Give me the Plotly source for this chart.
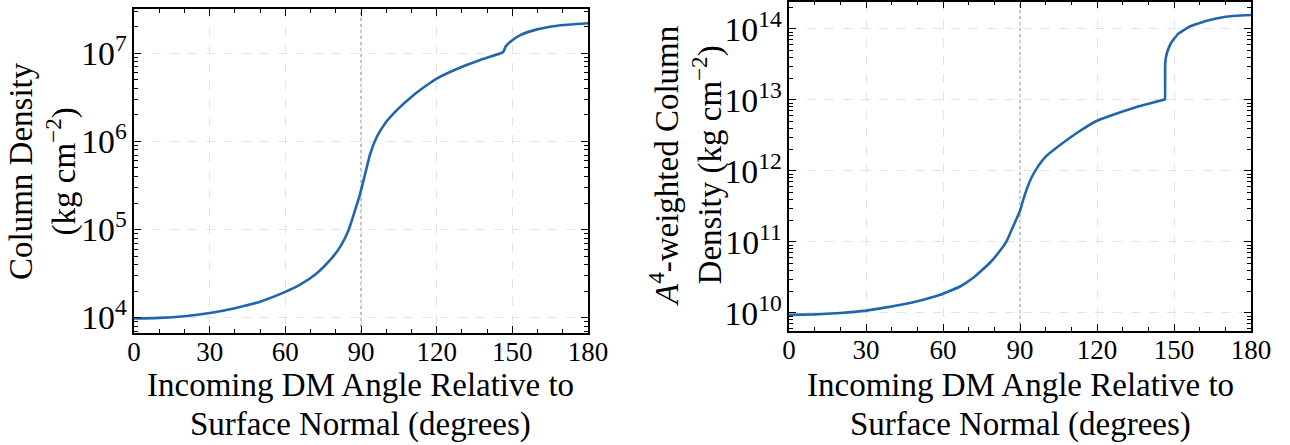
import plotly.graph_objects as go
from plotly.subplots import make_subplots

# ---- data ----
angle_left = [0, 10, 20, 30, 40, 50, 60, 66, 72.5, 77.8, 81.8, 85.1, 87.7, 89.7, 91.7, 93.7,
              96.3, 99.6, 104.3, 110.9, 116.2, 120.2, 129.4, 137.3, 146.2, 146.6, 147.0, 147.3,
              149.2, 153.2, 159.8, 167.8, 180]
column_density = [9.8e3, 9.95e3, 1.04e4, 1.13e4, 1.28e4, 1.52e4, 1.96e4, 2.38e4, 3.19e4, 4.52e4,
                  6.4e4, 9.9e4, 1.67e5, 2.58e5, 4.35e5, 7.3e5, 1.13e6, 1.61e6, 2.28e6, 3.37e6,
                  4.37e6, 5.2e6, 6.9e6, 8.4e6, 1.026e7, 1.06e7, 1.13e7, 1.19e7, 1.355e7, 1.61e7,
                  1.87e7, 2.06e7, 2.19e7]

angle_right = [0, 10, 20, 30, 40, 50, 58.9, 66.7, 71.9, 78.3, 82.2, 84.8, 87.4, 90, 91.3, 92.6,
               94.5, 97.1, 100.3, 106.8, 113.3, 119.8, 124.9, 128.8, 136.6, 146.4, 146.5, 146.55,
               146.8, 147.5, 148.9, 151.4, 156, 162.4, 170.2, 180]
a4_column_density = [9.4e9, 9.55e9, 1.0e10, 1.08e10, 1.23e10, 1.46e10, 1.8e10, 2.36e10, 3.15e10,
                     5.1e10, 7.5e10, 1.03e11, 1.68e11, 2.74e11, 3.98e11, 5.5e11, 8.1e11, 1.17e12,
                     1.63e12, 2.5e12, 3.66e12, 5.06e12, 5.96e12, 6.64e12, 8.2e12, 1.02e13, 1.03e13,
                     3.0e13, 3.9e13, 4.9e13, 6.4e13, 8.4e13, 1.08e14, 1.30e14, 1.49e14, 1.57e14]

x_ticks = [0, 30, 60, 90, 120, 150, 180]
ref_angle = 90

x_title_lines = ["Incoming DM Angle Relative to", "Surface Normal (degrees)"]
y_title_left = "Column Density<br>(kg cm<sup>−2</sup>)"
y_title_right = "<i>A</i><sup>4</sup>-weighted Column<br>Density (kg cm<sup>−2</sup>)"

LINE = "#2166ac"
FONT = "Liberation Serif"
W, H = 1290, 445

fig = make_subplots(rows=1, cols=2)
fig.add_trace(go.Scatter(x=angle_left, y=column_density, mode="lines",
                         line=dict(color=LINE, width=2.6, shape="spline", smoothing=0.5),
                         showlegend=False), row=1, col=1)
fig.add_trace(go.Scatter(x=angle_right, y=a4_column_density, mode="lines",
                         line=dict(color=LINE, width=2.6, shape="spline", smoothing=0.3),
                         showlegend=False), row=1, col=2)

for xref, yref in (("x", "y"), ("x2", "y2")):
    fig.add_shape(type="line", xref=xref, yref=yref + " domain", x0=ref_angle, x1=ref_angle,
                  y0=0, y1=1, line=dict(color="#888888", width=1, dash="dot"), layer="below")

common_x = dict(range=[0, 180], tickvals=x_ticks, ticks="inside", ticklen=7, tickwidth=1.2,
                tickcolor="black", mirror="allticks", showline=True, linecolor="black",
                linewidth=1.6, showgrid=True, gridcolor="#e3e3e3", griddash="dash",
                gridwidth=1, zeroline=False, automargin=False, ticklabelstandoff=-6,
                tickfont=dict(family=FONT, size=27, color="black"),
                minor=dict(dtick=10, ticks="inside", ticklen=4, tickcolor="black", showgrid=False))
common_y = dict(type="log", ticks="inside", ticklen=7, tickwidth=1.2, tickcolor="black",
                mirror="allticks", showline=True, linecolor="black", linewidth=1.6,
                showgrid=True, gridcolor="#e3e3e3", griddash="dash", gridwidth=1,
                zeroline=False, automargin=False, dtick=1, exponentformat="power",
                tickfont=dict(family=FONT, size=27, color="black"),
                minor=dict(ticks="inside", ticklen=4, tickcolor="black", showgrid=False))

fig.update_xaxes(**common_x)
fig.update_yaxes(**common_y)

title_font = dict(family=FONT, size=33, color="black")
annotations = []
for cx in (360, 1020):
    for text, cy in zip(x_title_lines, (385, 424)):
        annotations.append(dict(text=text, x=cx / W, y=1 - cy / H, xref="paper", yref="paper",
                                xanchor="center", yanchor="middle", showarrow=False,
                                font=title_font))
annotations += [
    dict(text=y_title_left, x=43 / W, y=1 - 171 / H, xref="paper", yref="paper",
         xanchor="center", yanchor="middle", showarrow=False, textangle=-90, font=title_font),
    dict(text=y_title_right, x=686 / W, y=1 - 166 / H, xref="paper", yref="paper",
         xanchor="center", yanchor="middle", showarrow=False, textangle=-90, font=title_font),
]

fig.update_layout(
    width=W, height=H, margin=dict(l=0, r=0, t=0, b=0),
    paper_bgcolor="white", plot_bgcolor="white",
    xaxis=dict(domain=[134 / W, 588 / W]),
    xaxis2=dict(domain=[789 / W, 1251 / W]),
    yaxis=dict(domain=[1 - 333 / H, 1 - 9 / H], range=[3.826, 7.503]),
    yaxis2=dict(domain=[1 - 331 / H, 1 - 1.5 / H], range=[9.746, 14.387]),
    annotations=annotations,
)

fig.write_html("out.html", config={"displayModeBar": False},
               post_script="document.body.style.margin='0';document.body.style.overflow='hidden';")
